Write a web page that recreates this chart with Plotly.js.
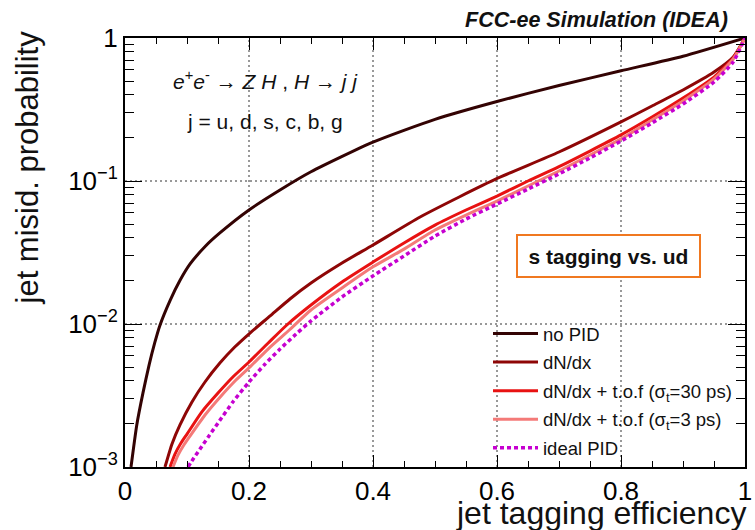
<!DOCTYPE html>
<html>
<head>
<meta charset="utf-8">
<script src="https://cdn.plot.ly/plotly-3.0.1.min.js"></script>
<style>
  html, body { margin: 0; padding: 0; background: #ffffff; }
  #chart { width: 755px; height: 530px; }
</style>
</head>
<body>
<div id="chart"></div>
<script>
// ROC curves: s-jet tagging efficiency vs. ud-jet misidentification probability

// no PID
const noPidEff = [0.0097, 0.019, 0.029, 0.039, 0.048, 0.056, 0.073, 0.089, 0.105, 0.13, 0.153, 0.20, 0.25, 0.30, 0.40, 0.50, 0.60, 0.70, 0.80, 0.90, 1.00];
const noPidMis = [0.001, 0.00197, 0.0033, 0.0052, 0.0074, 0.0097, 0.0147, 0.0203, 0.0263, 0.0351, 0.0433, 0.0627, 0.0865, 0.116, 0.187, 0.27, 0.36, 0.465, 0.59, 0.745, 1.00];

// dN/dx
const dndxEff = [0.0645, 0.0758, 0.0887, 0.108, 0.129, 0.153, 0.177, 0.2016, 0.234, 0.266, 0.30, 0.35, 0.40, 0.476, 0.539, 0.602, 0.70, 0.80, 0.85, 0.90, 0.95, 0.981, 1.00];
const dndxMis = [0.001, 0.00145, 0.00197, 0.00285, 0.00393, 0.00533, 0.0069, 0.00865, 0.01138, 0.01496, 0.01935, 0.0267, 0.0357, 0.056, 0.0773, 0.105, 0.1595, 0.259, 0.3345, 0.433, 0.578, 0.736, 1.00];

// dN/dx + time of flight, sigma_t = 30 ps
const tof30Eff = [0.0726, 0.0806, 0.0903, 0.100, 0.124, 0.150, 0.174, 0.200, 0.231, 0.261, 0.30, 0.35, 0.40, 0.45, 0.50, 0.55, 0.60, 0.65, 0.70, 0.75, 0.80, 0.85, 0.90, 0.95, 0.981, 1.00];
const tof30Mis = [0.001, 0.00123, 0.00147, 0.0017, 0.00243, 0.00329, 0.00426, 0.00542, 0.00736, 0.00984, 0.01358, 0.01967, 0.0271, 0.0369, 0.0492, 0.0627, 0.0785, 0.100, 0.126, 0.162, 0.21, 0.28, 0.38, 0.533, 0.725, 1.00];

// dN/dx + time of flight, sigma_t = 3 ps
const tof3Eff = [0.0774, 0.0855, 0.0952, 0.105, 0.129, 0.155, 0.179, 0.203, 0.234, 0.265, 0.30, 0.35, 0.40, 0.45, 0.50, 0.55, 0.60, 0.65, 0.70, 0.75, 0.80, 0.85, 0.90, 0.95, 0.981, 1.00];
const tof3Mis = [0.001, 0.00121, 0.00143, 0.00165, 0.00231, 0.00314, 0.00406, 0.00508, 0.0069, 0.00908, 0.01253, 0.01786, 0.0251, 0.0334, 0.0454, 0.0578, 0.0724, 0.0923, 0.1175, 0.152, 0.197, 0.267, 0.363, 0.517, 0.713, 1.00];

// ideal PID
const idealEff = [0.1016, 0.111, 0.121, 0.1355, 0.150, 0.174, 0.200, 0.226, 0.25, 0.276, 0.30, 0.35, 0.40, 0.45, 0.50, 0.55, 0.60, 0.65, 0.70, 0.75, 0.80, 0.85, 0.90, 0.95, 0.981, 1.00];
const idealMis = [0.001, 0.001156, 0.001336, 0.00165, 0.00203, 0.00285, 0.00393, 0.00525, 0.00668, 0.00851, 0.0105, 0.01545, 0.0217, 0.0299, 0.0412, 0.0542, 0.069, 0.0879, 0.112, 0.145, 0.1905, 0.2545, 0.3455, 0.492, 0.68, 1.00];

const seriesNames = [
  'no PID',
  'dN/dx',
  'dN/dx + t.o.f (σ<sub>t</sub>=30 ps)',
  'dN/dx + t.o.f (σ<sub>t</sub>=3 ps)',
  'ideal PID'
];

const xTickVals = [0, 0.2, 0.4, 0.6, 0.8, 1];
const xTickText = ['0', '0.2', '0.4', '0.6', '0.8', '1'];
const yTickVals = [0.001, 0.01, 0.1, 1];
const yTickText = ['10<sup>−3</sup>', '10<sup>−2</sup>', '10<sup>−1</sup>', '1'];

// dotted grid positions (inner major ticks)
const xGridVals = [0.2, 0.4, 0.6, 0.8];
const yGridVals = [0.01, 0.1];

// plot-area geometry in pixels, used to place the free text
const W = 755, H = 530;
const M = { l: 125, r: 10, t: 38, b: 63 };
const pw = W - M.l - M.r, ph = H - M.t - M.b;
const px = x => (x - M.l) / pw;
const py = y => (H - M.b - y) / ph;

const FONT = 'Liberation Sans, Arial, sans-serif';

function curve(x, y, name, color, dash, width) {
  return {
    type: 'scatter', mode: 'lines', x: x, y: y, name: name,
    legendgroup: name,
    line: { color: color, width: width, dash: dash, shape: 'spline', smoothing: 0.6 },
    hoverinfo: 'skip'
  };
}

const traces = [
  curve(noPidEff, noPidMis, seriesNames[0], '#330303', 'solid', 3),
  curve(dndxEff, dndxMis, seriesNames[1], '#8e0606', 'solid', 3),
  curve(tof30Eff, tof30Mis, seriesNames[2], '#e81212', 'solid', 3),
  curve(tof3Eff, tof3Mis, seriesNames[3], '#f47a78', 'solid', 3),
  curve(idealEff, idealMis, seriesNames[4], '#c600d0', '4px,3px', 3.5)
];

const axisCommon = {
  showline: true, linecolor: '#000', linewidth: 2, mirror: 'allticks',
  ticks: 'inside', tickcolor: '#000', tickwidth: 1,
  showgrid: false,
  zeroline: false,
  tickfont: { family: FONT, size: 26, color: '#000' },
  tickmode: 'array'
};

const gridLine = { color: '#333', width: 1, dash: '2px,3px' };
const gridShapes = []
  .concat(xGridVals.map(v => ({
    type: 'line', xref: 'x', yref: 'paper', x0: v, x1: v, y0: 0, y1: 1,
    line: gridLine, layer: 'below'
  })))
  .concat(yGridVals.map(v => ({
    type: 'line', xref: 'paper', yref: 'y', x0: 0, x1: 1, y0: v, y1: v,
    line: gridLine, layer: 'below'
  })));

const layout = {
  width: W, height: H,
  margin: M,
  paper_bgcolor: '#fff', plot_bgcolor: '#fff',
  showlegend: true,
  title: {
    text: '<b><i>FCC-ee Simulation (IDEA)</i></b>',
    font: { family: FONT, size: 21.5, color: '#111' },
    x: 596.5 / W, xanchor: 'center', xref: 'container',
    y: 1 - 19 / H, yanchor: 'middle', yref: 'container'
  },
  xaxis: Object.assign({}, axisCommon, {
    range: [0, 1],
    tickvals: xTickVals, ticktext: xTickText,
    ticklen: 12,
    minor: { dtick: 0.05, tick0: 0, ticks: 'inside', ticklen: 6, tickcolor: '#000', tickwidth: 1, showgrid: false }
  }),
  yaxis: Object.assign({}, axisCommon, {
    type: 'log',
    range: [-3, 0],
    tickvals: yTickVals, ticktext: yTickText,
    ticklen: 17,
    minor: { dtick: 'D1', ticks: 'inside', ticklen: 9, tickcolor: '#000', tickwidth: 1, showgrid: false }
  }),
  shapes: gridShapes,
  legend: {
    x: px(488), y: py(315), xanchor: 'left', yanchor: 'top',
    bgcolor: 'rgba(0,0,0,0)', borderwidth: 0,
    font: { family: FONT, size: 18.5, color: '#111' },
    traceorder: 'grouped', tracegroupgap: 1.5,
    itemwidth: 45
  },
  annotations: [
    {
      xref: 'paper', yref: 'paper', x: px(600.5), y: py(512.5),
      xanchor: 'center', yanchor: 'middle', showarrow: false,
      text: 'jet tagging efficiency',
      font: { family: FONT, size: 32, color: '#111' }
    },
    {
      xref: 'paper', yref: 'paper', x: px(27), y: py(167.5),
      xanchor: 'center', yanchor: 'middle', showarrow: false, textangle: -90,
      text: 'jet misid. probability',
      font: { family: FONT, size: 31, color: '#111' }
    },
    {
      xref: 'paper', yref: 'paper', x: px(265), y: py(80),
      xanchor: 'center', yanchor: 'middle', showarrow: false,
      text: '<i>e</i><sup>+</sup><i>e</i><sup>-</sup> → <i>Z H</i> , <i>H</i> → <i>j j</i>',
      font: { family: FONT, size: 21, color: '#111' }
    },
    {
      xref: 'paper', yref: 'paper', x: px(265), y: py(121),
      xanchor: 'center', yanchor: 'middle', showarrow: false,
      text: 'j = u, d, s, c, b, g',
      font: { family: FONT, size: 21, color: '#111' }
    },
    {
      xref: 'paper', yref: 'paper', x: px(608.5), y: py(256),
      xanchor: 'center', yanchor: 'middle', showarrow: false,
      text: '<b>s tagging vs. ud</b>',
      font: { family: FONT, size: 21, color: '#111' },
      bgcolor: '#fff', bordercolor: '#f07820', borderwidth: 2, borderpad: 0,
      width: 181, height: 40
    }
  ]
};

Plotly.newPlot('chart', traces, layout, { staticPlot: true, displayModeBar: false });
</script>
</body>
</html>
